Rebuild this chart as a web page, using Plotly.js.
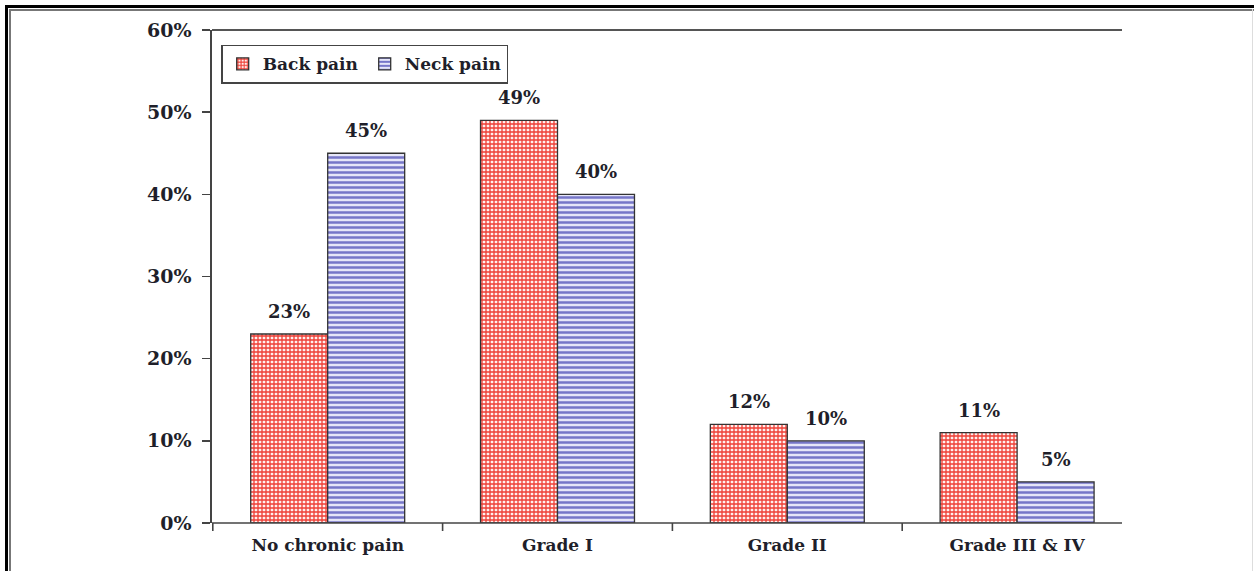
<!DOCTYPE html>
<html>
<head>
<meta charset="utf-8">
<script src="https://cdn.plot.ly/plotly-3.0.1.min.js"></script>
<style>
  html, body { margin: 0; padding: 0; background: #fff; }
  #wrap { position: relative; width: 1254px; height: 571px; overflow: hidden; }
  #chart { position: absolute; left: 0; top: 0; width: 1254px; height: 571px; }
  .fr { position: absolute; pointer-events: none; }
</style>
</head>
<body>
<div id="wrap">
  <div id="chart"></div>
  <div class="fr" style="left:5px; top:5px; width:1249px; height:3px; background:#000;"></div>
  <div class="fr" style="left:9px; top:9px; width:1245px; height:2px; background:#777;"></div>
  <div class="fr" style="left:5px; top:5px; width:3px; height:566px; background:#000;"></div>
  <div class="fr" style="left:9px; top:9px; width:2px; height:562px; background:#777;"></div>
  <div class="fr" style="left:1252px; top:9px; width:1px; height:562px; background:#ddd;"></div>
</div>
<script>
const categories = ["No chronic pain", "Grade I", "Grade II", "Grade III & IV"];
const backPain = [23, 49, 12, 11];
const neckPain = [45, 40, 10, 5];
const seriesNames = ["Back pain", "Neck pain"];

const FONT = "DejaVu Serif, Liberation Serif, serif";
const TXT = "#1f1f2a";
const AX = "#444";
const bargap = 0.33;
const half = (1 - bargap) / 4;

const traces = [
  {
    type: "bar", name: seriesNames[0], x: categories, y: backPain,
    marker: {
      color: "#ffffff",
      line: { color: "#333", width: 1.3 },
      pattern: { shape: "+", fgcolor: "#ee3f36", bgcolor: "#fff0ee", size: 4, solidity: 0.55 }
    },
    hoverinfo: "none"
  },
  {
    type: "bar", name: seriesNames[1], x: categories, y: neckPain,
    marker: {
      color: "#ffffff",
      line: { color: "#333", width: 1.3 },
      pattern: { shape: "-", fgcolor: "#7676c8", bgcolor: "#e6e6f8", size: 5, solidity: 0.5 }
    },
    hoverinfo: "none"
  }
];

const annotations = [];
categories.forEach((c, i) => {
  annotations.push({ x: i - half, y: backPain[i], xref: "x", yref: "y", text: backPain[i] + "%",
    showarrow: false, yanchor: "bottom", yshift: 10, font: { family: FONT, size: 18, color: TXT, weight: "bold" } });
  annotations.push({ x: i + half, y: neckPain[i], xref: "x", yref: "y", text: neckPain[i] + "%",
    showarrow: false, yanchor: "bottom", yshift: 10, font: { family: FONT, size: 18, color: TXT, weight: "bold" } });
});

// axis decorations: bottom line (ends short of plot right edge as in the reference), boundary ticks, top border line
const plotH = 571 - 30 - 48;
const lineEnd = (1122 - 212) / 920;
const shapes = [
  { type: "line", xref: "paper", yref: "paper", x0: 0, x1: lineEnd, y0: 0, y1: 0, line: { color: AX, width: 1.6 } },
  { type: "line", xref: "paper", yref: "paper", x0: 0, x1: lineEnd, y0: 1, y1: 1, line: { color: "#555", width: 2 } }
];
for (let k = 0; k < categories.length; k++) {
  shapes.push({ type: "line", xref: "x", yref: "paper", x0: k - 0.5, x1: k - 0.5, y0: 0, y1: -8 / plotH,
    line: { color: AX, width: 1.6 } });
}

const layout = {
  width: 1254, height: 571,
  margin: { l: 212, r: 122, t: 30, b: 48 },
  paper_bgcolor: "rgba(0,0,0,0)", plot_bgcolor: "#fff",
  barmode: "group", bargap: bargap, bargroupgap: 0,
  font: { family: FONT, size: 17, color: TXT, weight: "bold" },
  showlegend: true,
  legend: {
    orientation: "h", x: 0.01, y: 0.97, xanchor: "left", yanchor: "top",
    bgcolor: "#fff", bordercolor: "#444", borderwidth: 1.5,
    font: { family: FONT, size: 17, color: TXT, weight: "bold" },
    itemwidth: 30, tracegroupgap: 0,
    entrywidth: 97, entrywidthmode: "pixels"
  },
  xaxis: {
    type: "category", showgrid: false, zeroline: false, showline: false,
    ticks: "", ticklabelstandoff: 10,
    tickfont: { family: FONT, size: 17, color: TXT, weight: "bold" },
    fixedrange: true
  },
  yaxis: {
    range: [0, 60], dtick: 10, ticksuffix: "%", showgrid: false, zeroline: false,
    showline: true, linecolor: AX, linewidth: 1.6,
    ticks: "outside", ticklen: 8, tickcolor: AX, tickwidth: 1.6, ticklabelstandoff: 7,
    tickfont: { family: FONT, size: 19, color: TXT, weight: "bold" },
    fixedrange: true
  },
  shapes: shapes,
  annotations: annotations
};

Plotly.newPlot("chart", traces, layout, { displayModeBar: false, staticPlot: true });
</script>
</body>
</html>
